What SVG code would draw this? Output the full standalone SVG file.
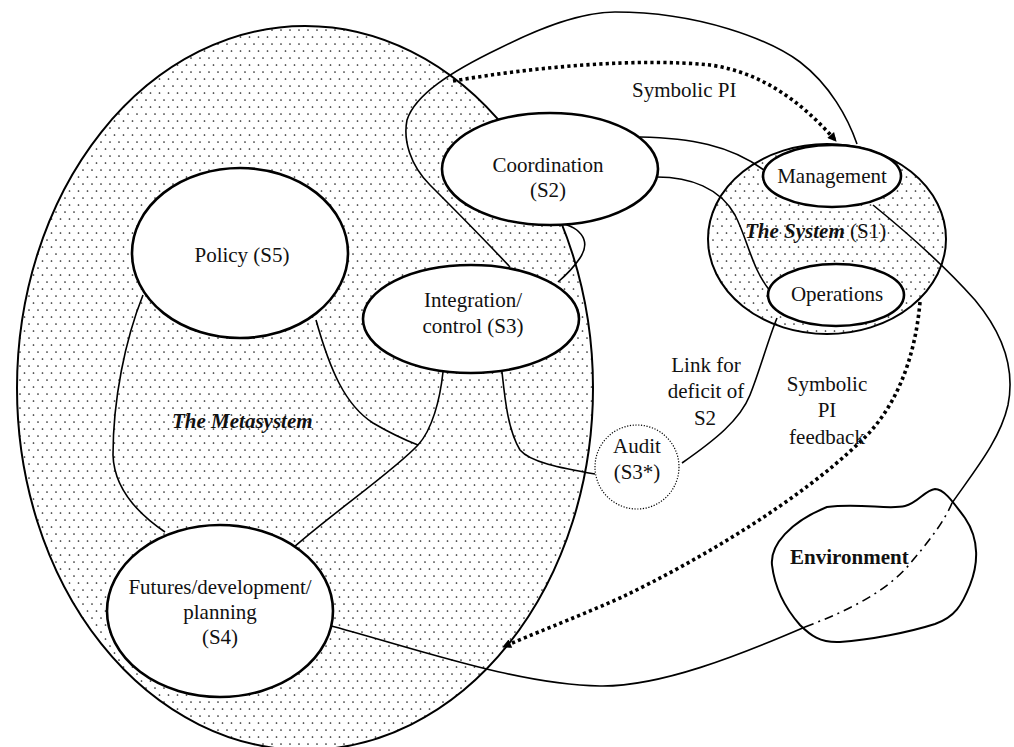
<svg xmlns="http://www.w3.org/2000/svg" width="1014" height="747" viewBox="0 0 1014 747" font-family="'Liberation Serif', 'Times New Roman', 'DejaVu Serif', serif">
<style>
  text { font-family: "Liberation Serif", "Times New Roman", "DejaVu Serif", serif; font-size: 21px; fill: #111; }
  .c { text-anchor: middle; }
  .bi { font-weight: bold; font-style: italic; }
  .b { font-weight: bold; }
  .node { fill: #fff; stroke: #000; stroke-width: 2.6; }
  .area { fill: url(#dots); stroke: #000; stroke-width: 2; }
  .ln { fill: none; stroke: #000; stroke-width: 1.6; }
  .dot { fill: none; stroke: #000; stroke-width: 3.6; stroke-dasharray: 3.2 3.2; }
  .dd { fill: none; stroke: #000; stroke-width: 1.6; stroke-dasharray: 9 5 2 5; }
</style>
<defs>
  <pattern id="dots" width="9" height="14" patternUnits="userSpaceOnUse">
    <rect width="9" height="14" fill="#fff"/>
    <circle cx="2" cy="2" r="0.85" fill="#222"/>
    <circle cx="6.5" cy="9" r="0.85" fill="#222"/>
  </pattern>
  <marker id="arr" viewBox="0 0 10 10" refX="9" refY="5" markerWidth="11" markerHeight="9" markerUnits="userSpaceOnUse" orient="auto">
    <path d="M0,0 L10,5 L0,10 Z" fill="#000"/>
  </marker>
</defs>
<rect width="1014" height="747" fill="#fff"/>

<g id="metasystem">
  <ellipse class="area" cx="305" cy="388" rx="288" ry="362"/>
  <text class="bi" x="172" y="428">The Metasystem</text>
</g>

<g id="system">
  <ellipse class="area" cx="827" cy="239" rx="119" ry="95" stroke-width="2.8"/>
  <text x="745" y="238"><tspan class="bi">The System</tspan> (S1)</text>
</g>

<g id="environment">
  <path d="M827,507 C860,503 890,510 905,506 C918,503 925,490 935,489 C945,489 955,505 965,518 C980,540 978,565 970,585 C962,605 955,617 935,624 C910,632 870,640 840,642 C820,643 810,635 800,625 C785,608 775,590 772,565 C770,545 790,522 827,507 Z" fill="none" stroke="#000" stroke-width="2"/>
  <text class="b" x="790" y="564" font-size="20">Environment</text>
</g>

<g id="connectors">
  <path class="ln" d="M510,267 C480,235 450,205 430,185 C410,165 403,140 407,120 C415,95 450,72 500,48 C540,28 580,12 615,12 C700,12 770,40 800,62 C830,85 848,118 857,144"/>
  <path class="dot" d="M453,81 C540,66 640,58 710,65 C760,72 800,100 836,141" marker-end="url(#arr)"/>
  <path class="ln" d="M640,137 C690,138 730,145 764,170"/>
  <path class="ln" d="M657,177 C690,177 720,188 735,215 C748,240 752,270 771,292"/>
  <path class="ln" d="M553,222 C580,225 592,240 580,258 C572,270 565,276 558,282"/>
  <path class="ln" d="M143,295 C125,340 113,400 113,455 C114,490 140,515 165,532"/>
  <path class="ln" d="M316,320 C330,370 345,405 373,423 C390,433 405,440 418,445"/>
  <path class="ln" d="M443,372 C440,400 432,430 418,445 C395,470 330,515 293,548"/>
  <path class="ln" d="M502,372 C505,400 508,430 520,450 C530,462 560,468 595,474"/>
  <path class="ln" d="M682,463 C715,440 740,420 750,395 C760,370 768,340 777,318"/>
  <path class="dot" d="M920,302 C915,360 895,410 860,442 C800,500 700,560 620,598 C570,620 530,635 503,647" marker-end="url(#arr)"/>
  <path class="ln" d="M328,625 C420,650 520,685 600,686 C660,687 740,655 805,627"/>
  <path class="dd" d="M805,627 C850,610 890,590 913,560 C930,540 945,520 952,503"/>
  <path class="ln" d="M952,503 C975,470 1000,440 1008,405 C1016,365 1000,330 975,300 C950,272 910,235 873,205"/>
</g>

<g id="policy">
  <ellipse class="node" cx="240" cy="253" rx="108" ry="85"/>
  <text class="c" x="242" y="262">Policy (S5)</text>
</g>

<g id="coordination">
  <ellipse class="node" cx="550" cy="169" rx="108" ry="56"/>
  <text class="c" x="548" y="172">Coordination</text>
  <text class="c" x="548" y="197">(S2)</text>
</g>

<g id="integration">
  <ellipse class="node" cx="471" cy="319" rx="108" ry="54"/>
  <text class="c" x="473" y="307">Integration/</text>
  <text class="c" x="473" y="333">control (S3)</text>
</g>

<g id="futures">
  <ellipse class="node" cx="220" cy="611" rx="113" ry="86"/>
  <text class="c" x="220" y="594">Futures/development/</text>
  <text class="c" x="220" y="619">planning</text>
  <text class="c" x="220" y="644">(S4)</text>
</g>

<g id="audit">
  <circle cx="637" cy="467" r="42" fill="#fff" stroke="#000" stroke-width="1.2" stroke-dasharray="1.2 1.6"/>
  <text class="c" x="637" y="453">Audit</text>
  <text class="c" x="637" y="479">(S3*)</text>
</g>

<g id="management">
  <ellipse class="node" cx="832" cy="176" rx="69" ry="31"/>
  <text class="c" x="832" y="183">Management</text>
</g>

<g id="operations">
  <ellipse class="node" cx="836" cy="295" rx="68" ry="31"/>
  <text class="c" x="837" y="301">Operations</text>
</g>

<g id="labels">
  <text x="632" y="97">Symbolic PI</text>
  <text class="c" x="706" y="372">Link for</text>
  <text class="c" x="706" y="398">deficit of</text>
  <text class="c" x="705" y="425">S2</text>
  <text class="c" x="827" y="391">Symbolic</text>
  <text class="c" x="827" y="417">PI</text>
  <text class="c" x="827" y="444">feedback</text>
</g>
</svg>
